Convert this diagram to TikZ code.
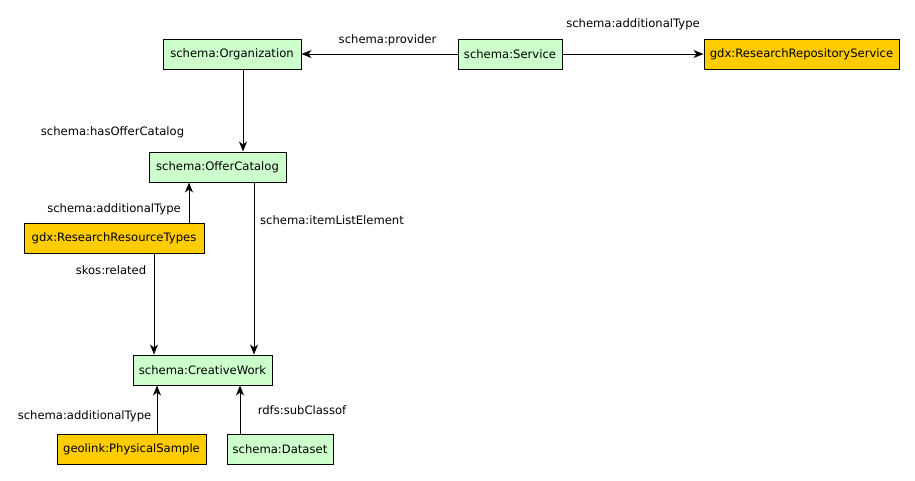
\documentclass[tikz,border=0pt]{standalone}
\usepackage{fontspec}
\setmainfont{DejaVu Sans}
\usetikzlibrary{arrows.meta}
\definecolor{classgreen}{HTML}{CCFFCC}
\definecolor{vocaborange}{HTML}{FFCC00}
\tikzset{
  cls/.style={draw, line width=1pt, fill=classgreen, minimum height=30pt, inner sep=0pt, font=\fontsize{11.6}{13}\selectfont},
  voc/.style={cls, fill=vocaborange},
  rel/.style={draw, line width=1pt, -{Stealth[length=10pt,width=8pt,inset=3pt]}},
  lbl/.style={font=\fontsize{11.6}{13}\selectfont, inner sep=0pt},
}
\begin{document}
\begin{tikzpicture}[x=1pt,y=-1pt]
\useasboundingbox (0,0) rectangle (915,480);
\node[cls, minimum width=138pt] (org) at (232,54) {schema:Organization};
\node[cls, minimum width=104pt] (srv) at (510,54) {schema:Service};
\node[voc, minimum width=195pt] (rrs) at (801.5,54) {gdx:ResearchRepositoryService};
\node[cls, minimum width=137pt] (cat) at (217.5,167) {schema:OfferCatalog};
\node[voc, minimum width=180pt] (rrt) at (114,238) {gdx:ResearchResourceTypes};
\node[cls, minimum width=139pt] (cw) at (202.5,370) {schema:CreativeWork};
\node[voc, minimum width=149pt] (ps) at (131.5,449) {geolink:PhysicalSample};
\node[cls, minimum width=106pt] (ds) at (280,449) {schema:Dataset};
\path[rel] (srv) -- node[lbl, xshift=8pt, yshift=14pt] {schema:provider} (org);
\path[rel] (srv) -- node[lbl, yshift=30pt] {schema:additionalType} (rrs);
\path[rel] (org.south -| 243,0) -- node[lbl, xshift=-130.5pt, yshift=-21.5pt] {schema:hasOfferCatalog} (cat.north -| 243,0);
\path[rel] (rrt.north -| 189,0) -- node[lbl, xshift=-75pt, yshift=-6.5pt] {schema:additionalType} (cat.south -| 189,0);
\path[rel] (cat.south -| 254,0) -- node[lbl, xshift=78pt, yshift=48.5pt] {schema:itemListElement} (cw.north -| 254,0);
\path[rel] (rrt.south -| 154,0) -- node[lbl, xshift=-43pt, yshift=34pt] {skos:related} (cw.north -| 154,0);
\path[rel] (ps.north -| 157,0) -- node[lbl, xshift=-72.5pt, yshift=-6.5pt] {schema:additionalType} (cw.south -| 157,0);
\path[rel] (ds.north -| 240,0) -- node[lbl, xshift=62pt, yshift=-0.5pt] {rdfs:subClassof} (cw.south -| 240,0);
\end{tikzpicture}
\end{document}
